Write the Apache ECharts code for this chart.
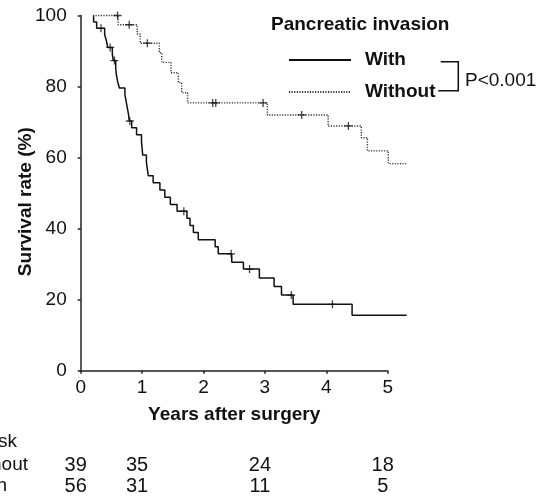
<!DOCTYPE html>
<html><head><meta charset="utf-8">
<script src="https://cdn.jsdelivr.net/npm/echarts@6/dist/echarts.min.js"></script>
<style>html,body{margin:0;padding:0;background:#fff}#c{width:544px;height:498px}</style>
</head><body><div id="c"></div>
<script>
// ---- data ----
const xTicks = [0, 1, 2, 3, 4, 5];
const yTicks = [0, 20, 40, 60, 80, 100];

const withTime = [0.21,0.21,0.26,0.39,0.42,0.44,0.515,0.53,0.57,0.58,0.60,0.63,0.72,0.74,0.76,0.78,0.79,0.83,0.91,0.99,1.00,1.01,1.07,1.085,1.10,1.18,1.29,1.37,1.46,1.57,1.73,1.78,1.835,1.915,2.19,2.24,2.46,2.65,2.91,3.15,3.27,3.46,4.42,5.31];
const withSurv = [100,98.2,96.4,94.6,92.8,91.0,89.2,87.3,85.3,83.4,81.5,79.6,77.7,75.8,73.9,72.0,70.3,68.4,66.4,64.5,62.6,60.7,58.7,56.8,54.9,52.9,50.9,48.8,46.8,44.9,42.9,40.9,38.9,36.9,34.9,32.9,30.5,28.6,26.1,23.7,21.3,18.7,15.6,15.6];
const withCensorTime = [0.33,0.48,0.55,0.80,1.68,2.45,2.75,3.43,4.10];
const withCensorSurv = [96.4,91.0,87.3,70.3,44.9,32.9,28.6,21.3,18.7];

const withoutTime = [0.20,0.61,0.92,0.97,1.28,1.32,1.47,1.59,1.645,1.74,3.04,4.03,4.57,4.67,5.01,5.31];
const withoutSurv = [100,97.4,94.8,92.2,89.5,86.8,83.9,81.1,78.3,75.4,72.0,68.9,65.6,61.9,58.3,58.3];
const withoutCensorTime = [0.60,0.79,1.085,2.15,2.20,2.97,3.60,4.36];
const withoutCensorSurv = [100,97.4,92.2,75.4,75.4,75.4,72.0,68.9];

const riskYears = [0, 1, 3, 5];
const riskWithout = [39, 35, 24, 18];
const riskWith = [56, 31, 11, 5];
const riskRowLabels = ['No. at risk', 'Without', 'With'];

// ---- chart ----
const FONT = "'Liberation Sans', Arial, Helvetica, sans-serif";
const zip = (a, b) => a.map((v, i) => [v, b[i]]);
const plus = 'path://M-0.16,-1H0.16V-0.16H1V0.16H0.16V1H-0.16V0.16H-1V-0.16H-0.16Z';

const PLOT_LEFT = 80.7, PLOT_TOP = 15.5, PLOT_BOTTOM = 127.3, PLOT_RIGHT = 156.3;
const DATA_XMAX = 5.4;  // the curves run a little past the last tick (5)
const pxPerYear = (544 - PLOT_LEFT - PLOT_RIGHT) / (xTicks[xTicks.length - 1] - xTicks[0]);

const chart = echarts.init(document.getElementById('c'), null, {renderer: 'canvas'});
const option = {
  animation: false,
  backgroundColor: '#fff',
  textStyle: {fontFamily: FONT},
  title: {
    text: 'Pancreatic invasion', left: 271, top: 15, padding: 0,
    textStyle: {fontFamily: FONT, fontSize: 19, fontWeight: 'bold', color: '#111'}
  },
  legend: {
    data: ['With', 'Without'], orient: 'vertical', left: 288, top: 50, padding: 0,
    itemWidth: 62, itemHeight: 14, itemGap: 12, selectedMode: false,
    itemStyle: {opacity: 0, borderWidth: 0},
    textStyle: {fontFamily: FONT, fontSize: 19, fontWeight: 'bold', color: '#111', lineHeight: 20, padding: [0, 0, 0, 9]}
  },
  grid: [
    // axes grid: x axis drawn 0..5
    {left: PLOT_LEFT, right: PLOT_RIGHT, top: PLOT_TOP, bottom: PLOT_BOTTOM},
    // data grid: same scale, extended to DATA_XMAX
    {left: PLOT_LEFT, width: pxPerYear * DATA_XMAX, top: PLOT_TOP, bottom: PLOT_BOTTOM}
  ],
  xAxis: [{
    gridIndex: 0, type: 'value', min: xTicks[0], max: xTicks[xTicks.length - 1], interval: 1,
    name: 'Years after surgery', nameLocation: 'middle', nameGap: 35,
    nameTextStyle: {fontFamily: FONT, fontSize: 19, fontWeight: 'bold', color: '#111'},
    axisLine: {lineStyle: {color: '#222', width: 1.5}},
    axisTick: {show: true, length: 3, inside: false, lineStyle: {color: '#222', width: 1.5}},
    axisLabel: {fontFamily: FONT, fontSize: 19, color: '#111', margin: 8},
    splitLine: {show: false}
  }, {
    gridIndex: 1, type: 'value', min: 0, max: DATA_XMAX, show: false
  }],
  yAxis: [{
    gridIndex: 0, type: 'value', min: yTicks[0], max: yTicks[yTicks.length - 1], interval: 20,
    axisLine: {show: true, lineStyle: {color: '#222', width: 1.5}},
    axisTick: {show: true, length: 3, inside: false, lineStyle: {color: '#222', width: 1.5}},
    axisLabel: {fontFamily: FONT, fontSize: 19, color: '#111', margin: 14},
    splitLine: {show: false}
  }, {
    gridIndex: 1, type: 'value', min: yTicks[0], max: yTicks[yTicks.length - 1], show: false
  }],
  series: [
    {name: 'With', type: 'line', step: 'end', xAxisIndex: 1, yAxisIndex: 1, data: zip(withTime, withSurv),
     symbol: 'none', clip: false, lineStyle: {color: '#111', width: 1.5, type: 'solid'}, itemStyle: {color: '#111'}, z: 3},
    {name: 'Without', type: 'line', step: 'end', xAxisIndex: 1, yAxisIndex: 1, data: zip(withoutTime, withoutSurv),
     symbol: 'none', clip: false, lineStyle: {color: '#333', width: 1.4, type: [1.2, 1.4]}, itemStyle: {color: '#333'}, z: 3},
    {name: 'With censored', type: 'scatter', xAxisIndex: 1, yAxisIndex: 1, data: zip(withCensorTime, withCensorSurv),
     symbol: plus, symbolSize: 8, itemStyle: {color: '#111'}, clip: false, z: 4},
    {name: 'Without censored', type: 'scatter', xAxisIndex: 1, yAxisIndex: 1, data: zip(withoutCensorTime, withoutCensorSurv),
     symbol: plus, symbolSize: 8, itemStyle: {color: '#111'}, clip: false, z: 4}
  ]
};
chart.setOption(option);

// ---- annotations: P value bracket, y-axis title, numbers at risk ----
const g = [];
g.push({type: 'polyline', shape: {points: [[440.7, 61.7], [458.3, 61.7], [458.3, 90.7], [438.3, 90.7]]},
        style: {stroke: '#111', lineWidth: 1.5, fill: null}});
g.push({type: 'text', x: 465, y: 80.5, style: {text: 'P<0.001', font: '19px ' + FONT, fill: '#111', textVerticalAlign: 'middle'}});
g.push({type: 'text', x: 26, y: 201.7, rotation: Math.PI / 2,
        style: {text: 'Survival rate (%)', font: 'bold 19px ' + FONT, fill: '#111', textAlign: 'center', textVerticalAlign: 'middle'}});

const rowY = [442, 465, 486];
const labelRight = [17, 28, 7];
riskRowLabels.forEach((t, i) => g.push({type: 'text', x: labelRight[i], y: rowY[i],
  style: {text: t, font: '19px ' + FONT, fill: '#111', textAlign: 'right', textVerticalAlign: 'middle'}}));
riskYears.forEach((yr, i) => {
  const px = chart.convertToPixel({xAxisIndex: 0}, yr) - 5;
  g.push({type: 'text', x: px, y: rowY[1], style: {text: String(riskWithout[i]), font: '20px ' + FONT, fill: '#111', textAlign: 'center', textVerticalAlign: 'middle'}});
  g.push({type: 'text', x: px, y: rowY[2], style: {text: String(riskWith[i]), font: '20px ' + FONT, fill: '#111', textAlign: 'center', textVerticalAlign: 'middle'}});
});
chart.setOption({graphic: g});
</script>
</body></html>
